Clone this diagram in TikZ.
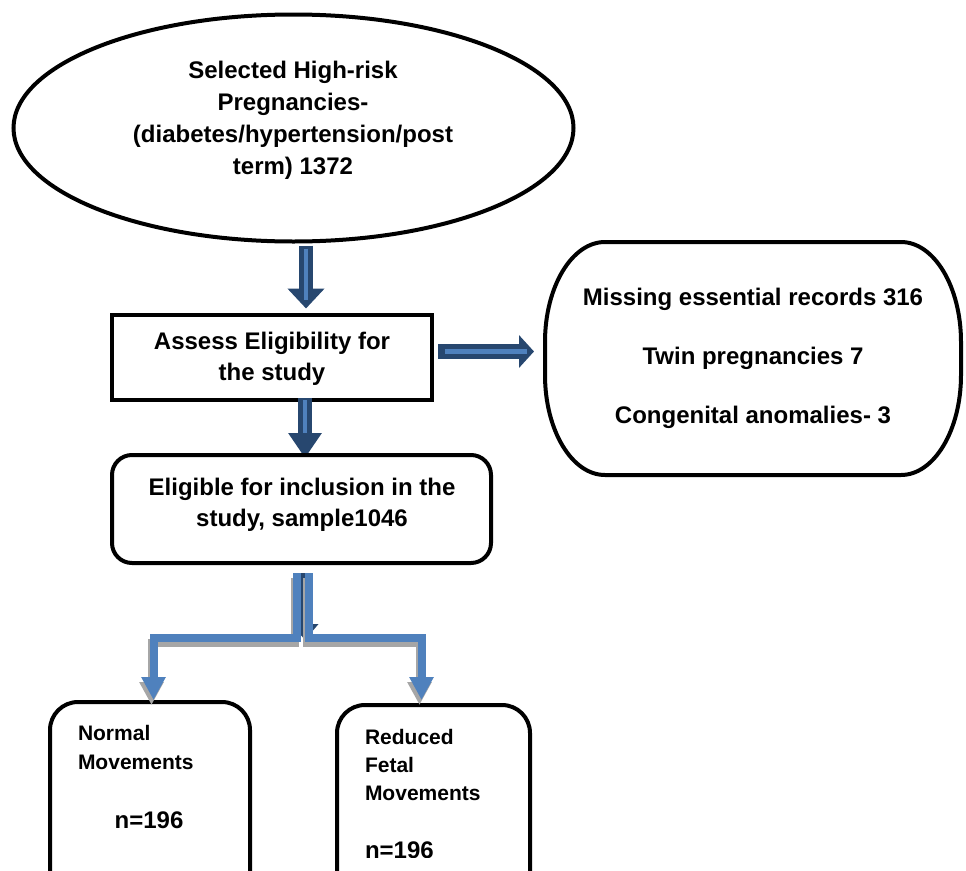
\documentclass[tikz,border=0pt]{standalone}
\usepackage{fontspec}
\setmainfont{Liberation Sans}
\usetikzlibrary{arrows.meta,shapes.geometric,calc}

\definecolor{navy}{HTML}{27476F}
\definecolor{steel}{HTML}{4F81BD}
\definecolor{dropgray}{HTML}{A6A6A6}

\begin{document}
\begin{tikzpicture}[x=1pt,y=-1pt,
  every node/.style={inner sep=0pt, outer sep=0pt},
  txt/.style={font=\fontsize{24}{31}\selectfont\bfseries},
  small/.style={font=\fontsize{21}{28.5}\selectfont\bfseries},
  frame/.style={draw=black, line width=4pt, fill=white},
  headstrip/.style={steel, line width=4.5pt},
  elbow/.style={steel, line width=8pt, line join=miter,
    -{Triangle[width=23pt,length=23pt]}},
  elbowshadow/.style={elbow, dropgray},
]
\useasboundingbox (0,0) rectangle (966,870);
\clip (0,0) rectangle (966,870);

% ---- top ellipse ----
\node[frame, ellipse, minimum width=560pt, minimum height=227pt] (sel) at (293.5,128) {};
\node[txt, align=center, font=\fontsize{24}{32}\selectfont\bfseries] (selt) at (293,120)
  {Selected High-risk\\Pregnancies-\\(diabetes/hypertension/post\\term) 1372};

% ---- exclusion box with elliptical corners (y axis points down) ----
\node[minimum width=416pt, minimum height=233pt] (excl) at (753,358.5) {};
\draw[line width=4pt]
  ($(excl.north west)+(60,0)$) -- ($(excl.north east)+(-60,0)$)
  arc[start angle=-90, end angle=0, x radius=60, y radius=100]
  -- ($(excl.south east)+(0,-100)$)
  arc[start angle=0, end angle=90, x radius=60, y radius=100]
  -- ($(excl.south west)+(60,0)$)
  arc[start angle=90, end angle=180, x radius=60, y radius=100]
  -- ($(excl.north west)+(0,100)$)
  arc[start angle=180, end angle=270, x radius=60, y radius=100] -- cycle;
\node[txt, align=center] (exclt) at (753,358)
  {Missing essential records 316\\[28pt]Twin pregnancies 7\\[28pt]Congenital anomalies- 3};

% ---- block arrows (drawn before the boxes they run into) ----
\draw[navy, line width=14pt, -{Triangle[width=36pt,length=20pt]}]
  ($(sel.south)+(12.5,4)$) -- ($(sel.south)+(12.5,67)$);
\draw[headstrip] ($(sel.south)+(12.5,7)$) -- ($(sel.south)+(12.5,58)$);

\node[frame, minimum width=320pt, minimum height=85pt] (assess) at (272,357.5) {};
\node[txt, align=center] (assesst) at (272,359) {Assess Eligibility for\\the study};

\draw[navy, line width=15pt, -{Triangle[width=32pt,length=15pt]}]
  ($(assess.east)+(6,-6)$) -- ($(excl.west)+(-11,-7)$);
\draw[headstrip] ($(assess.east)+(13,-6)$) -- ($(excl.west)+(-18,-7)$);

\draw[navy, line width=14pt, -{Triangle[width=32pt,length=25pt]}]
  ($(assess.south)+(33,-2)$) -- ($(assess.south)+(33,58)$);
\draw[headstrip, line width=4pt] ($(assess.south)+(33,0)$) -- ($(assess.south)+(33,33)$);

\node[frame, rounded corners=20pt, minimum width=379pt, minimum height=108pt] (elig) at (301.5,509) {};
\node[txt, align=center] (eligt) at (302,504.5) {Eligible for inclusion in the\\study, sample1046};

% ---- split into the two groups ----
\node[frame, rounded corners=28pt, minimum width=200pt, minimum height=240pt, anchor=north] (nbox) at (150,702) {};
\node[frame, rounded corners=28pt, minimum width=193pt, minimum height=240pt, anchor=north] (rbox) at (433.5,705) {};

\draw[navy, line width=12pt, -{Triangle[width=26pt,length=16pt]}]
  ($(elig.south)+(3.5,10)$) -- ($(elig.south)+(3.5,77)$);

% drop shadows, offset down and slightly left
\draw[elbowshadow] ($(elig.south)+(-6.5,15)$) -- ++(0,65) -| ($(nbox.north)+(1.5,3)$);
\draw[elbowshadow] ($(elig.south)+(5.5,15)$) -- ++(0,65) -| ($(rbox.north)+(-14,0)$);
\draw[elbow] ($(elig.south)+(-4.5,10)$) -- ++(0,65) -| ($(nbox.north)+(3.5,-2)$);
\draw[elbow] ($(elig.south)+(7.5,10)$) -- ++(0,65) -| ($(rbox.north)+(-12,-5)$);

\node[small, align=left, anchor=west] (nbt) at (78,747.5) {Normal\\Movements};
\node[txt] (nbn) at (149,820) {n=196};
\node[small, align=left, anchor=west, font=\fontsize{21}{28}\selectfont\bfseries] (rbt) at (365,765) {Reduced\\Fetal\\Movements};
\begin{scope}
  \clip (340,820) rectangle (525,857);
  \node[txt, anchor=west] (rbn) at (365,850.5) {n=196};
\end{scope}
\end{tikzpicture}
\end{document}
